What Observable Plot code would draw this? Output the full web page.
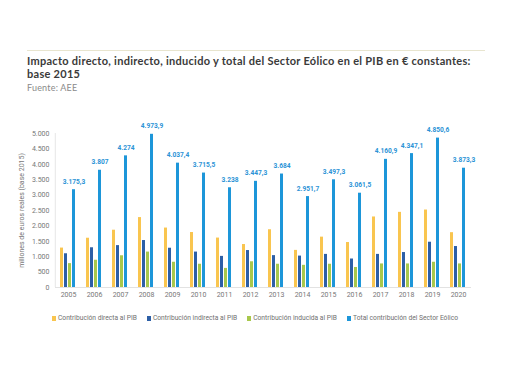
<!DOCTYPE html>
<html>
<head>
<meta charset="utf-8">
<script src="https://cdn.jsdelivr.net/npm/d3@7"></script>
<script src="https://cdn.jsdelivr.net/npm/@observablehq/plot@0.6"></script>
<style>
  body { margin: 0; background: #fff; width: 510px; height: 382px; position: relative; overflow: hidden; font-family: Lato, "Open Sans", sans-serif; }
  #rule { position: absolute; left: 27px; top: 50px; width: 458px; border-top: 1px solid #e8e5cf; }
  #title { position: absolute; left: 27px; top: 54px; font-size: 11px; font-weight: 700; color: #3a3a3a; line-height: 13px; letter-spacing: 0.28px; white-space: nowrap; }
  #sub { position: absolute; left: 27px; top: 82px; font-size: 9px; color: #8a8a8a; letter-spacing: 0.2px; }
  #chart { position: absolute; left: 0; top: 100px; }
  #legend { position: absolute; left: 0; top: 314px; width: 510px; display: flex; justify-content: center; gap: 10px; font-family: Roboto, sans-serif; font-size: 6.7px; color: #707070; }
  #legend span.item { display: flex; align-items: center; gap: 2px; }
  #legend span.sw { display: inline-block; width: 4px; height: 5px; }
</style>
</head>
<body>
<div id="rule"></div>
<div id="title">Impacto directo, indirecto, inducido y total del Sector Eólico en el PIB en € constantes:<br>base 2015</div>
<div id="sub">Fuente: AEE</div>
<div id="chart"></div>
<div id="legend"></div>
<script>
const years = ["2005","2006","2007","2008","2009","2010","2011","2012","2013","2014","2015","2016","2017","2018","2019","2020"];
const series = ["Contribución directa al PIB","Contribución indirecta al PIB","Contribución inducida al PIB","Total contribución del Sector Eólico"];
const colors = ["#f9c54f","#2d5fa6","#a8c84c","#1d96d9"];
const directa   = [1280,1600,1860,2270,1930,1785,1605,1395,1875,1205,1635,1460,2290,2440,2515,1780];
const indirecta = [1095,1290,1360,1525,1275,1150,1010,1200,1035,1020,1075,925,1075,1135,1470,1330];
const inducida  = [775,885,1030,1150,820,755,620,835,755,720,755,650,765,765,820,765];
const total     = [3175.3,3807,4274,4973.9,4037.4,3715.5,3238,3447.3,3684,2951.7,3497.3,3061.5,4160.9,4347.1,4850.6,3873.3];
const yTicks = [0,500,1000,1500,2000,2500,3000,3500,4000,4500,5000];

const valueArrays = [directa, indirecta, inducida, total];
const data = [];
years.forEach((yr, i) => series.forEach((s, j) => data.push({year: yr, serie: s, value: valueArrays[j][i]})));
const totals = years.map((yr, i) => ({year: yr, serie: series[3], value: total[i]}));

const es = d3.formatLocale({decimal: ",", thousands: ".", grouping: [3], currency: ["", " €"]});
const fmt = es.format(",");

const W = 510, ML = 51, MR = 36;
const facetW = (W - ML - MR) / years.length;

const chart = Plot.plot({
  width: W, height: 205,
  marginLeft: ML, marginRight: MR, marginTop: 33, marginBottom: 18,
  style: {fontFamily: "Roboto, sans-serif", fontSize: "7px", color: "#777", background: "transparent"},
  fx: {domain: years, padding: 0, label: null, tickSize: 0, tickPadding: 5},
  x: {domain: series, paddingInner: 0.17, paddingOuter: 0.92, axis: null},
  y: {domain: [0, 5000], ticks: yTicks, tickSize: 0, tickPadding: 6, tickFormat: fmt,
      label: "millones de euros reales (base 2015)", labelAnchor: "center", labelOffset: 36, labelArrow: "none"},
  color: {domain: series, range: colors},
  marks: [
    Plot.ruleY([0], {stroke: "#e2e2e2"}),
    Plot.ruleX([years[0]], {fx: d => d, x: null, y1: 0, y2: 5000, dx: -facetW / 2, stroke: "#e6e6e6"}),
    Plot.barY(data, {fx: "year", x: "serie", y: "value", fill: "serie"}),
    Plot.text(totals, {fx: "year", x: "serie", y: "value", text: d => fmt(d.value), dy: -8,
      fill: "#2b93d6", fontWeight: "bold", fontSize: 6.6})
  ]
});
document.getElementById("chart").appendChild(chart);

const legend = document.getElementById("legend");
series.forEach((s, i) => {
  const item = document.createElement("span");
  item.className = "item";
  const sw = document.createElement("span");
  sw.className = "sw";
  sw.style.background = colors[i];
  item.appendChild(sw);
  item.appendChild(document.createTextNode(s));
  legend.appendChild(item);
});
</script>
</body>
</html>
